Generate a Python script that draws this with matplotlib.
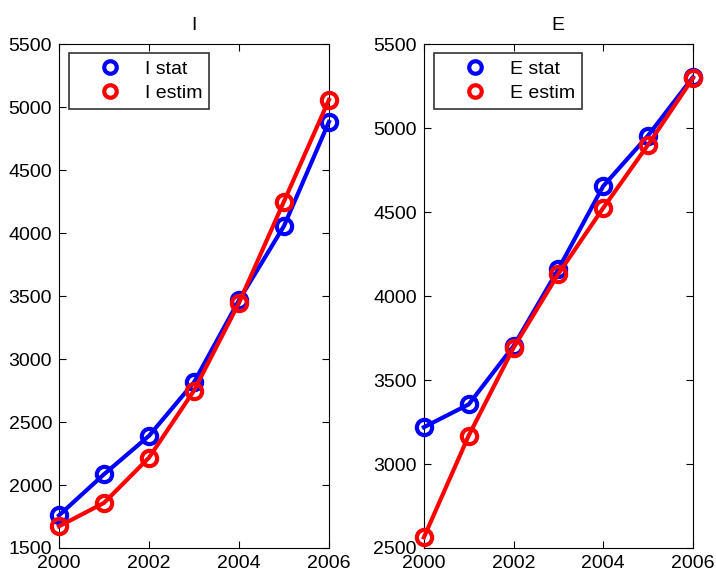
import matplotlib.pyplot as plt
from matplotlib.lines import Line2D

years = [2000, 2001, 2002, 2003, 2004, 2005, 2006]
i_stat = [1759, 2085, 2390, 2815, 3466, 4055, 4882]
i_estim = [1672, 1858, 2217, 2749, 3445, 4250, 5057]
e_stat = [3219, 3355, 3702, 4160, 4654, 4955, 5302]
e_estim = [2563, 3169, 3692, 4132, 4524, 4900, 5296]

plt.rcParams["font.family"] = ["Liberation Sans", "DejaVu Sans"]

fig = plt.figure(figsize=(7.16, 5.74), dpi=100)
ax1 = fig.add_axes([0.0824, 0.0453, 0.377, 0.878])
ax2 = fig.add_axes([0.592, 0.0453, 0.3757, 0.878])


def panel(ax, stat, estim, name, ylim, yticks):
    ax.plot(years, stat, color="blue", lw=3, marker="o", ms=11,
            mfc="none", mew=3, zorder=3, clip_on=False)
    ax.plot(years, estim, color="red", lw=3, marker="o", ms=11,
            mfc="none", mew=3, zorder=3, clip_on=False)
    ax.set_xlim(2000, 2006)
    ax.set_ylim(*ylim)
    ax.set_xticks([2000, 2002, 2004, 2006])
    ax.set_yticks(yticks)
    ax.tick_params(direction="in", top=True, right=True, labelsize=14,
                   length=5, width=0.8, pad=5)
    for s in ax.spines.values():
        s.set_linewidth(0.8)
    ax.set_title(name, fontsize=14, pad=10)
    handles = [
        Line2D([], [], color="blue", ls="none", marker="o", ms=9,
               mfc="none", mew=3),
        Line2D([], [], color="red", ls="none", marker="o", ms=9,
               mfc="none", mew=3),
    ]
    leg = ax.legend(handles, [name + " stat", name + " estim"],
                    loc="upper left", fontsize=14, frameon=True,
                    fancybox=False, edgecolor="black", borderpad=0.35,
                    handlelength=3.5, handletextpad=0.05, labelspacing=0.35,
                    borderaxespad=0, bbox_to_anchor=(0.037, 0.982))
    leg.get_frame().set_linewidth(1.2)


panel(ax1, i_stat, i_estim, "I", (1500, 5500), range(1500, 5501, 500))
panel(ax2, e_stat, e_estim, "E", (2500, 5500), range(2500, 5501, 500))

fig.savefig("out.png")
